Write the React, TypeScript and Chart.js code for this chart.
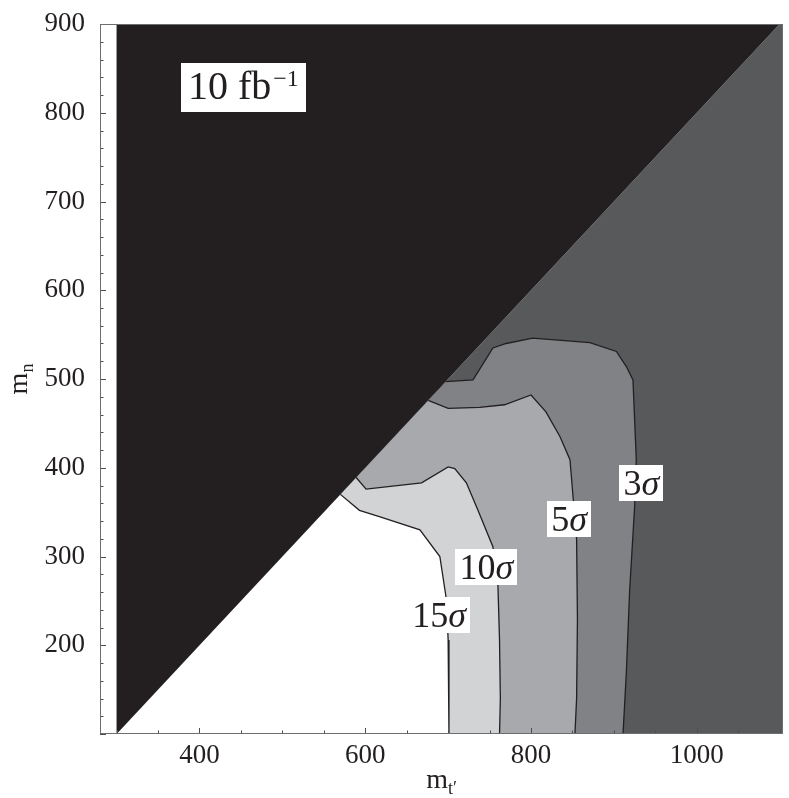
import React, { useEffect, useRef } from 'react';
import { Chart, registerables } from 'chart.js';

Chart.register(...registerables);

type Pt = [number, number];

// ---- axes ----
const xRange: Pt = [280, 1104];
const yRange: Pt = [100, 900];
const xTickValues = [400, 600, 800, 1000];
const yTickValues = [200, 300, 400, 500, 600, 700, 800, 900];
const xMinorStep = 50;
const yMinorStep = 20;

// ---- regions (m_t', m_n) ----
const diagonalOrigin: Pt = [300, 100];
const excludedRegion: Pt[] = [[300, 900], [1100, 900], [300, 100]];
const allowedRegion: Pt[] = [[300, 100], [1104, 100], [1104, 900], [1100, 900]];

// ---- significance contours (from diagonal down to the m_n = 100 edge) ----
const sigma3: Pt[] = [[697, 497], [730, 499], [746, 523], [754, 535], [770, 540], [802, 546], [871, 541], [903, 531], [915, 514], [923, 499], [925, 454], [927, 409], [925, 356], [919, 262], [915, 169], [911, 100]];
const sigma5: Pt[] = [[676, 476], [700, 467], [738, 468], [768, 471], [800, 482], [818, 463], [835, 435], [847, 409], [851, 364], [855, 319], [856, 229], [855, 140], [853, 100]];
const sigma10: Pt[] = [[589, 389], [601, 376], [668, 383], [700, 401], [708, 399], [722, 383], [736, 352], [754, 311], [760, 270], [762, 206], [763, 140], [762, 100]];
const sigma15: Pt[] = [[570, 370], [593, 352], [617, 345], [666, 330], [690, 300], [698, 251], [700, 206], [701, 150], [701, 100]];

const contourLevels = [3, 5, 10, 15];
const contourLines: Pt[][] = [sigma3, sigma5, sigma10, sigma15];
const luminosityText = '10 fb';
const luminosityExp = '−1';
const xTitle = ['m', 't′'];
const yTitle = ['m', 'n'];

// ---- annotation anchors (data coords) ----
const contourLabelAnchors: Pt[] = [[933, 383], [846, 342], [746, 288], [689, 234]];
const luminosityAnchor: Pt = [453, 829];

// ---- styles ----
const SERIF = '"Liberation Serif", "Times New Roman", serif';
const TEXT = '#231f20';
const EXCLUDED_COLOR = '#231f20';
const BELOW3_COLOR = '#58595b';
const BAND_COLORS = ['#808285', '#a7a9ac', '#d1d3d4', '#ffffff'];
const LINE_COLOR = '#231f20';

type Part = { text: string; size: number; italic?: boolean; dy?: number; dx?: number };

function setFont(ctx: CanvasRenderingContext2D, p: Part) {
  ctx.font = `${p.italic ? 'italic ' : ''}${p.size}px ${SERIF}`;
}
function measureParts(ctx: CanvasRenderingContext2D, parts: Part[]) {
  let w = 0;
  for (const p of parts) {
    setFont(ctx, p);
    w += (p.dx || 0) + ctx.measureText(p.text).width;
  }
  return w;
}
function drawParts(ctx: CanvasRenderingContext2D, parts: Part[], x: number, y: number) {
  let cx = x;
  for (const p of parts) {
    setFont(ctx, p);
    cx += p.dx || 0;
    ctx.fillText(p.text, cx, y + (p.dy || 0));
    cx += ctx.measureText(p.text).width;
  }
}
function drawBoxLabel(ctx: CanvasRenderingContext2D, cx: number, cy: number, parts: Part[], padX: number, boxH: number, baseOff: number) {
  const w = measureParts(ctx, parts) + 2 * padX;
  ctx.fillStyle = '#ffffff';
  ctx.fillRect(Math.round(cx - w / 2), Math.round(cy - boxH / 2), Math.round(w), boxH);
  ctx.fillStyle = TEXT;
  drawParts(ctx, parts, cx - w / 2 + padX, cy + baseOff);
}

const overlayPlugin = {
  id: 'overlay',
  afterDraw(chart: any) {
    const { ctx, chartArea: a, scales } = chart;
    const xs = scales.x;
    const ys = scales.y;
    ctx.save();
    // inward tick marks
    ctx.strokeStyle = '#4d4d4f';
    ctx.lineWidth = 1;
    for (let v = 300; v <= 1100; v += xMinorStep) {
      const px = Math.round(xs.getPixelForValue(v)) + 0.5;
      const len = xTickValues.includes(v) ? 6 : 3.5;
      ctx.beginPath();
      ctx.moveTo(px, a.bottom);
      ctx.lineTo(px, a.bottom - len);
      ctx.stroke();
    }
    for (let v = yRange[0]; v <= yRange[1]; v += yMinorStep) {
      const py = Math.round(ys.getPixelForValue(v)) + 0.5;
      const len = v % 100 === 0 ? 6 : 3.5;
      ctx.beginPath();
      ctx.moveTo(a.left, py);
      ctx.lineTo(a.left + len, py);
      ctx.stroke();
    }
    // frame
    ctx.strokeStyle = '#6d6e71';
    ctx.strokeRect(a.left + 0.5, a.top + 0.5, a.right - a.left - 1, a.bottom - a.top - 1);

    ctx.textAlign = 'left';
    ctx.textBaseline = 'alphabetic';
    // contour labels
    contourLevels.forEach((lvl, i) => {
      const [dx, dy] = contourLabelAnchors[i];
      drawBoxLabel(ctx, xs.getPixelForValue(dx), ys.getPixelForValue(dy),
        [{ text: String(lvl), size: 36 }, { text: 'σ', size: 36, italic: true }], 4, 36, 12);
    });
    // luminosity label
    drawBoxLabel(ctx, xs.getPixelForValue(luminosityAnchor[0]), ys.getPixelForValue(luminosityAnchor[1]),
      [{ text: luminosityText, size: 40 }, { text: luminosityExp, size: 24, dy: -13, dx: 2 }], 7, 49, 12);

    // x title
    ctx.fillStyle = TEXT;
    const xParts: Part[] = [{ text: xTitle[0], size: 28 }, { text: xTitle[1], size: 18, dy: 6 }];
    const xw = measureParts(ctx, xParts);
    drawParts(ctx, xParts, (a.left + a.right) / 2 - xw / 2, 788);
    // y title (rotated)
    const yParts: Part[] = [{ text: yTitle[0], size: 28 }, { text: yTitle[1], size: 18, dy: 6 }];
    const yw = measureParts(ctx, yParts);
    ctx.translate(27, (a.top + a.bottom) / 2 + yw / 2);
    ctx.rotate(-Math.PI / 2);
    drawParts(ctx, yParts, 0, 0);
    ctx.restore();
  },
};

const toXY = (pts: Pt[]) => pts.map(([x, y]) => ({ x, y }));
const polygon = (pts: Pt[], color: string, order: number) => ({
  data: toXY(pts),
  fill: 'shape',
  backgroundColor: color,
  borderColor: 'rgba(0,0,0,0)',
  borderWidth: 0,
  pointRadius: 0,
  pointHoverRadius: 0,
  tension: 0,
  order,
});

export default function App() {
  const ref = useRef<HTMLCanvasElement>(null);
  useEffect(() => {
    if (!ref.current) return;
    const datasets: any[] = [
      polygon(allowedRegion, BELOW3_COLOR, 20),
      ...contourLines.map((c, i) => polygon([...c, diagonalOrigin], BAND_COLORS[i], 19 - i)),
      ...contourLines.map((c) => ({
        data: toXY(c),
        fill: false,
        borderColor: LINE_COLOR,
        borderWidth: 1.3,
        pointRadius: 0,
        pointHoverRadius: 0,
        tension: 0,
        order: 5,
      })),
      polygon(excludedRegion, EXCLUDED_COLOR, 1),
    ];
    const chart = new Chart(ref.current, {
      type: 'line',
      data: { datasets },
      options: {
        animation: false,
        responsive: false,
        events: [],
        layout: { padding: { top: 24, right: 6, left: 0, bottom: 0 } },
        plugins: { legend: { display: false }, tooltip: { enabled: false } },
        scales: {
          x: {
            type: 'linear',
            min: xRange[0],
            max: xRange[1],
            afterBuildTicks: (s: any) => { s.ticks = xTickValues.map((v) => ({ value: v })); },
            afterFit: (s: any) => { s.height = 64; s.paddingLeft = 0; s.paddingRight = 0; },
            grid: { display: false, drawTicks: false },
            border: { display: false },
            ticks: { font: { family: SERIF, size: 27 }, color: TEXT, padding: 6, maxRotation: 0, autoSkip: false, callback: (v: any) => String(v) },
          },
          y: {
            type: 'linear',
            min: yRange[0],
            max: yRange[1],
            afterBuildTicks: (s: any) => { s.ticks = yTickValues.map((v) => ({ value: v })); },
            afterFit: (s: any) => { s.width = 100; s.paddingTop = 0; s.paddingBottom = 0; },
            grid: { display: false, drawTicks: false },
            border: { display: false },
            ticks: { font: { family: SERIF, size: 27 }, color: TEXT, padding: 15, autoSkip: false, callback: (v: any) => String(v) },
          },
        },
      } as any,
      plugins: [overlayPlugin],
    });
    return () => chart.destroy();
  }, []);
  return (
    <div style={{ position: 'absolute', left: 0, top: 0, width: 789, height: 798, background: '#fff' }}>
      <canvas ref={ref} width={789} height={798} style={{ display: 'block' }} />
    </div>
  );
}
